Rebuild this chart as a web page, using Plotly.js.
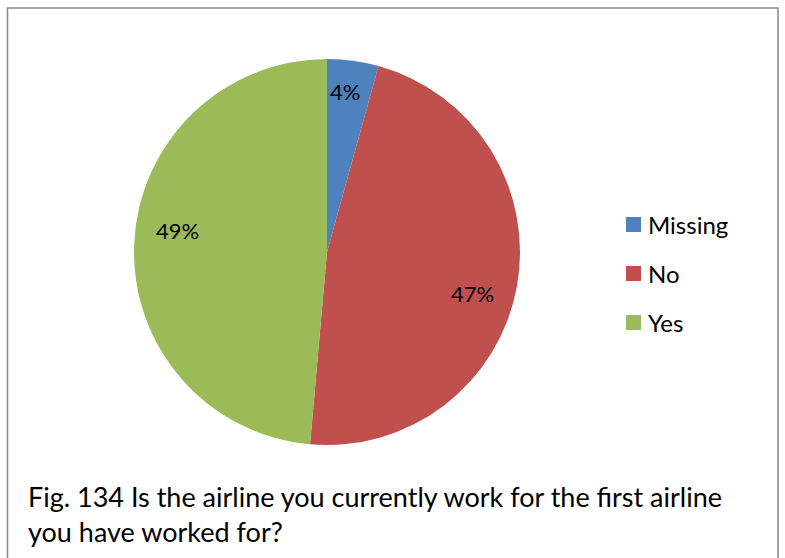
<!DOCTYPE html>
<html>
<head>
<meta charset="utf-8">
<script src="https://cdn.plot.ly/plotly-3.0.1.min.js"></script>
<style>html,body{margin:0;padding:0;background:#fff;}#chart{width:785px;height:558px;}</style>
</head>
<body>
<div id="chart"></div>
<script>
const categories = ["Missing", "No", "Yes"];
const values = [4.3, 47.1, 48.6];
const colors = ["#4F81BD", "#C0504D", "#9BBB59"];
const caption = "Fig. 134 Is the airline you currently work for the first airline<br>you have worked for?";

const W = 785, H = 558;
const font = "Lato, 'Open Sans', sans-serif";
const cx = 327, cy = 252, R = 193;

const shapes = [{
  type: "rect", xref: "paper", yref: "paper",
  x0: 7.5 / W, x1: 778 / W, y0: -0.05, y1: 1 - 8 / H,
  line: { color: "#878787", width: 1.5 }, fillcolor: "rgba(0,0,0,0)"
}];
const annotations = [{
  xref: "paper", yref: "paper", x: 26 / W, y: 1 - 478 / H,
  xanchor: "left", yanchor: "top", align: "left", showarrow: false,
  text: caption, font: { family: font, size: 27, color: "#000" }
}];

// legend built from categories/colors
categories.forEach((c, i) => {
  const yc = 224.5 + i * 49;
  shapes.push({
    type: "rect", xref: "paper", yref: "paper",
    x0: 626 / W, x1: 641 / W, y0: 1 - (yc + 7.5) / H, y1: 1 - (yc - 7.5) / H,
    line: { width: 0 }, fillcolor: colors[i]
  });
  annotations.push({
    xref: "paper", yref: "paper", x: 646 / W, y: 1 - yc / H,
    xanchor: "left", yanchor: "middle", showarrow: false,
    text: c, font: { family: font, size: 24, color: "#000" }
  });
});

// percentage labels placed from the data (mid-angle of each slice)
const total = values.reduce((a, b) => a + b, 0);
let cum = 0;
values.forEach((v, i) => {
  const span = v / total * 360;
  const big = span > 30;
  const ang = (cum + span / 2 + (big ? 5.7 : -1.3)) * Math.PI / 180;
  const rr = R * (big ? 0.785 : 0.835);
  cum += span;
  const px = cx + rr * Math.sin(ang), py = cy - rr * Math.cos(ang);
  annotations.push({
    xref: "paper", yref: "paper", x: px / W, y: 1 - py / H,
    xanchor: "center", yanchor: "middle", showarrow: false,
    text: Math.round(v / total * 100) + "%",
    font: { family: font, size: 22, color: "#000" }
  });
});

const data = [{
  type: "pie",
  labels: categories,
  values: values,
  sort: false,
  direction: "clockwise",
  rotation: 0,
  marker: { colors: colors, line: { width: 0 } },
  textinfo: "none",
  hoverinfo: "none",
  domain: { x: [(cx - R) / W, (cx + R) / W], y: [1 - (cy + R) / H, 1 - (cy - R) / H] },
  showlegend: false
}];

const layout = {
  width: W, height: H,
  margin: { l: 0, r: 0, t: 0, b: 0 },
  paper_bgcolor: "#fff",
  showlegend: false,
  shapes: shapes,
  annotations: annotations
};

Plotly.newPlot("chart", data, layout, { displayModeBar: false, staticPlot: true });
</script>
</body>
</html>
